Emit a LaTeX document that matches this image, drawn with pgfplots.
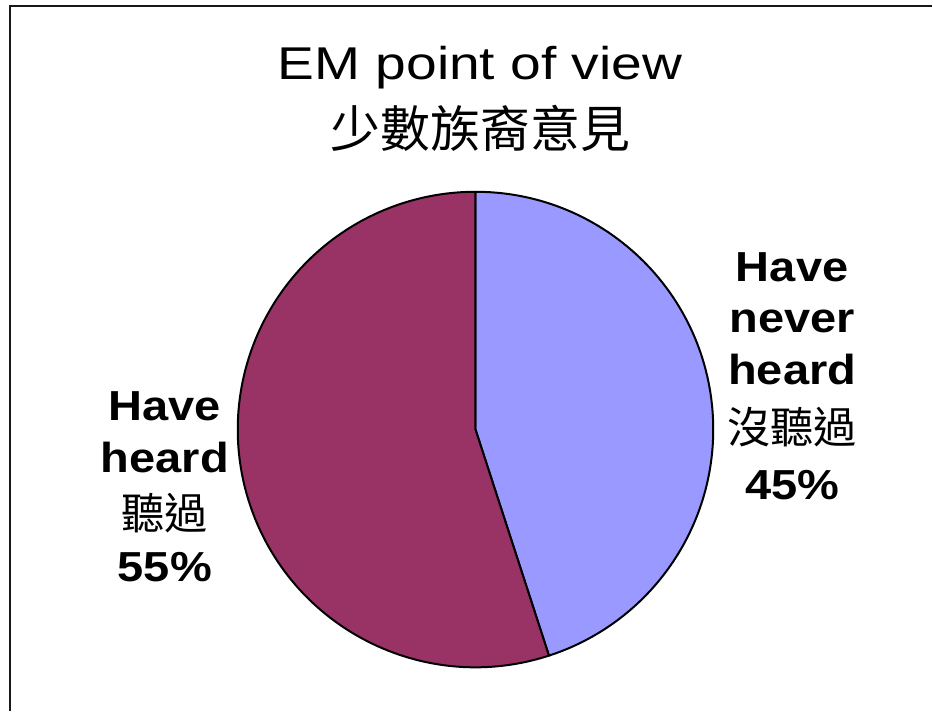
\documentclass[border=0pt]{standalone}
\usepackage{pgfplots}
\usepackage{pgfplotstable}
\pgfplotsset{compat=1.18}
\usepackage{fontspec}
\setmainfont{Liberation Sans}
\newfontfamily\titlefont{Liberation Sans}[FakeStretch=1.2]
\newfontfamily\lblfont{Liberation Sans Bold}[FakeStretch=1.12]
\newfontfamily\cjk{Noto Sans CJK TC}
\definecolor{pieblue}{HTML}{9999FF}
\definecolor{piepurple}{HTML}{993366}
\pgfplotstableread{
label value
never 45
heard 55
}\piedata
\begin{document}
\begin{tikzpicture}
\pgfplotstablegetelem{0}{value}\of\piedata
\let\va\pgfplotsretval
\pgfplotstablegetelem{1}{value}\of\piedata
\let\vb\pgfplotsretval
\pgfmathsetmacro\angA{90-3.6*\va}
\pgfmathsetmacro\angB{\angA-3.6*\vb}
\begin{axis}[
  width=93.3mm, height=71.2mm, scale only axis,
  xmin=0, xmax=933, ymin=0, ymax=712,
  hide axis, clip=false]
\path (axis cs:0,0) rectangle (axis cs:933,712);
\draw[black!90, line width=0.2mm] (axis cs:10.5,0) -- (axis cs:10.5,706.3) -- (axis cs:933,706.3);
% slices
\filldraw[fill=pieblue, draw=black, line width=0.2mm, line join=round]
  (axis cs:476,282) -- (axis cs:476,520) arc[start angle=90, end angle=\angA, radius=23.8mm] -- cycle;
\filldraw[fill=piepurple, draw=black, line width=0.2mm, line join=round]
  (axis cs:476,282) -- ++(\angA:23.8mm) arc[start angle=\angA, end angle=\angB, radius=23.8mm] -- cycle;
% title
\node[anchor=base, inner sep=0pt] at (axis cs:480.5,632) {\titlefont\fontsize{13.09pt}{15pt}\selectfont EM point of view};
\node[anchor=base, inner sep=0pt] at (axis cs:481,564) {\cjk\fontsize{14.2pt}{16pt}\selectfont 少數族裔意見};
% right label
\node[anchor=base, inner sep=0pt] at (axis cs:793,430) {\lblfont\fontsize{11.95pt}{14pt}\selectfont Have};
\node[anchor=base, inner sep=0pt] at (axis cs:793,379) {\lblfont\fontsize{11.95pt}{14pt}\selectfont never};
\node[anchor=base, inner sep=0pt] at (axis cs:793,327) {\lblfont\fontsize{11.95pt}{14pt}\selectfont heard};
\node[anchor=base, inner sep=0pt] at (axis cs:793,268) {\cjk\fontsize{12.3pt}{14pt}\selectfont 沒聽過};
\node[anchor=base, inner sep=0pt] at (axis cs:793,212) {\lblfont\fontsize{11.95pt}{14pt}\selectfont 45\%};
% left label
\node[anchor=base, inner sep=0pt] at (axis cs:165,291) {\lblfont\fontsize{11.95pt}{14pt}\selectfont Have};
\node[anchor=base, inner sep=0pt] at (axis cs:165,239) {\lblfont\fontsize{11.95pt}{14pt}\selectfont heard};
\node[anchor=base, inner sep=0pt] at (axis cs:165,182) {\cjk\fontsize{12.3pt}{14pt}\selectfont 聽過};
\node[anchor=base, inner sep=0pt] at (axis cs:165,130) {\lblfont\fontsize{11.95pt}{14pt}\selectfont 55\%};
\end{axis}
\end{tikzpicture}
\end{document}
